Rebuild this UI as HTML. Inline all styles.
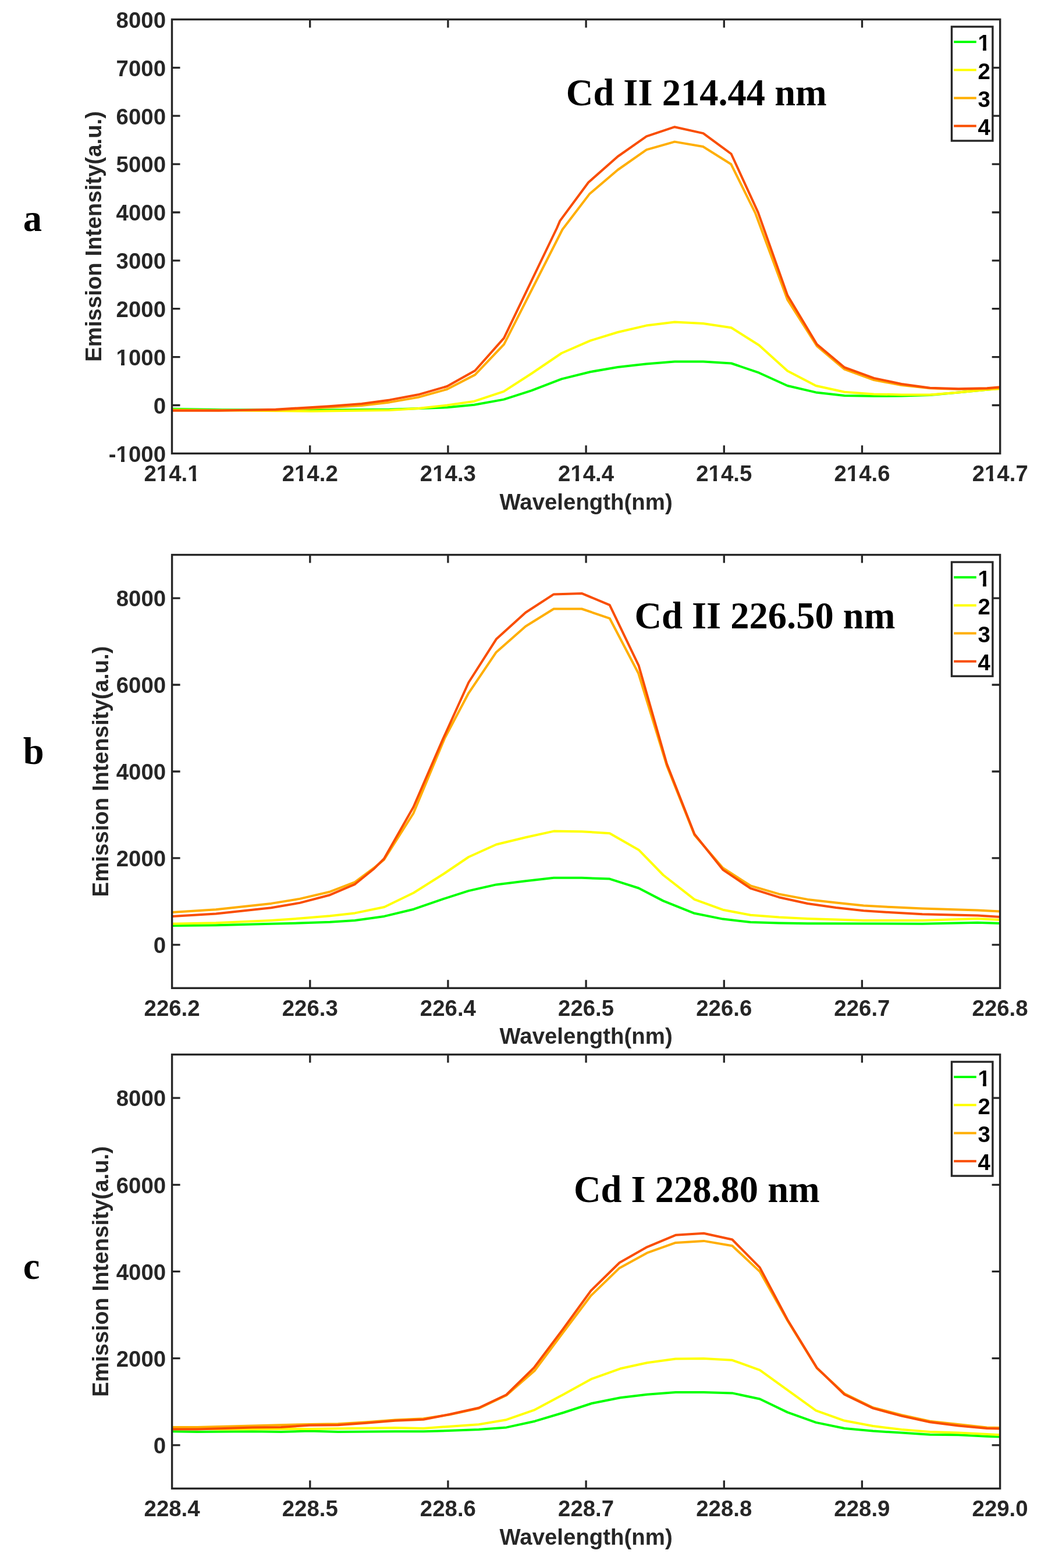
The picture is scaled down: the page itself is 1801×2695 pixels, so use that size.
<!DOCTYPE html>
<html><head><meta charset="utf-8"><title>Cd emission spectra</title>
<style>html,body{margin:0;padding:0;background:#fff;}svg{display:block;}</style></head><body>
<svg width="1801" height="2695" viewBox="0 0 1801 2695">
<rect x="0" y="0" width="1801" height="2695" fill="#fff"/>
<g id="panel-a">
<clipPath id="clip-a"><rect x="295.5" y="33.4" width="1423.2" height="746"/></clipPath>
<g clip-path="url(#clip-a)" fill="none" stroke-width="4" stroke-linejoin="round" stroke-linecap="butt">
<polyline stroke="#00ff00" points="296,702.8 381.8,704.3 534.9,704.9 669.6,703.7 768.3,700.3 815.1,695.8 865.6,686.6 913.1,671.3 965.1,651.4 1014.1,639.2 1061.6,631 1110.5,625.4 1159.5,621.4 1208.5,621.4 1256.8,624.5 1304.3,640.7 1353.3,663 1402.2,674.4 1451.2,679.9 1501.7,680.8 1549.2,680.5 1598.2,679 1647.1,674.4 1696.1,669.8 1720,667.3"/>
<polyline stroke="#ffff00" points="296,704.3 381.8,705.2 534.9,706.7 669.6,704.9 718.6,702 768.3,696.5 815.1,689.7 865.6,672.9 913.1,642.2 965.1,607 1014.1,585.6 1061.6,571 1110.5,559.6 1159.5,553.5 1208.5,555.9 1256.8,563.3 1304.3,593.3 1353.3,637.6 1402.2,663 1451.2,673.8 1501.7,677.4 1549.2,678.4 1598.2,678.4 1647.1,674.4 1696.1,669.8 1720,668.3"/>
<polyline stroke="#ffae00" points="296,704.9 473.7,705.2 565.5,700.3 621.5,697 669.6,691.4 718.6,682.9 768.3,669 816.4,644.1 866.1,591.9 966.5,394.5 1012.9,333.6 1061.6,292 1111,257.4 1159.4,243.6 1208.2,252 1256.4,282.3 1298.2,366.7 1353.3,515.2 1403.8,594.8 1451.2,634.6 1501.7,653 1549.2,662.1 1598.2,667.3 1647.1,668.9 1696.1,668.3 1720,666.7"/>
<polyline stroke="#f94d00" points="296,705.8 375.7,705.8 473.7,703.7 565.5,698.2 621.5,694.1 669.6,687.4 718.6,678.3 768.3,664 816.4,637 866,581.1 957,392 962.3,379.6 1011.2,313.5 1061.6,269 1111,234.4 1159.4,218.2 1208.5,229.1 1256.6,264.5 1302.8,365.2 1353.3,507.6 1403.8,591.7 1451.2,631.5 1501.7,649.9 1549.2,660 1598.2,666.7 1647.1,668.3 1696.1,667.3 1720,665.2"/>
</g>
<path d="M532.7 779.4V765.4M532.7 33.4V47.4M769.9 779.4V765.4M769.9 33.4V47.4M1007.1 779.4V765.4M1007.1 33.4V47.4M1244.3 779.4V765.4M1244.3 33.4V47.4M1481.5 779.4V765.4M1481.5 33.4V47.4M295.5 696.5H309.5M1718.7 696.5H1704.7M295.5 613.6H309.5M1718.7 613.6H1704.7M295.5 530.7H309.5M1718.7 530.7H1704.7M295.5 447.8H309.5M1718.7 447.8H1704.7M295.5 365H309.5M1718.7 365H1704.7M295.5 282.1H309.5M1718.7 282.1H1704.7M295.5 199.2H309.5M1718.7 199.2H1704.7M295.5 116.3H309.5M1718.7 116.3H1704.7" stroke="#262626" stroke-width="3.3" fill="none"/>
<rect x="295.5" y="33.4" width="1423.2" height="746" stroke="#262626" stroke-width="3.4" fill="none"/>
<g font-family="'Liberation Sans', Arial, Helvetica, sans-serif" font-weight="bold" font-size="38.4" fill="#262626">
<text x="295.5" y="826.9" text-anchor="middle">214.1</text>
<text x="532.7" y="826.9" text-anchor="middle">214.2</text>
<text x="769.9" y="826.9" text-anchor="middle">214.3</text>
<text x="1007.1" y="826.9" text-anchor="middle">214.4</text>
<text x="1244.3" y="826.9" text-anchor="middle">214.5</text>
<text x="1481.5" y="826.9" text-anchor="middle">214.6</text>
<text x="1718.7" y="826.9" text-anchor="middle">214.7</text>
<text x="285" y="793.7" text-anchor="end">-1000</text>
<text x="285" y="710.8" text-anchor="end">0</text>
<text x="285" y="627.9" text-anchor="end">1000</text>
<text x="285" y="545" text-anchor="end">2000</text>
<text x="285" y="462.1" text-anchor="end">3000</text>
<text x="285" y="379.3" text-anchor="end">4000</text>
<text x="285" y="296.4" text-anchor="end">5000</text>
<text x="285" y="213.5" text-anchor="end">6000</text>
<text x="285" y="130.6" text-anchor="end">7000</text>
<text x="285" y="47.7" text-anchor="end">8000</text>
<text x="1007.1" y="875.5" text-anchor="middle">Wavelength(nm)</text>
<text transform="translate(174.1 406.4) rotate(-90)" x="0" y="0" text-anchor="middle">Emission Intensity(a.u.)</text>
</g>
<rect x="1635.5" y="45.9" width="70.4" height="196.1" fill="#fff" stroke="#262626" stroke-width="3.4"/>
<line x1="1639.2" y1="72" x2="1677.8" y2="72" stroke="#00ff00" stroke-width="4"/>
<text x="1680.5" y="87.4" font-family="'Liberation Sans', Arial, Helvetica, sans-serif" font-weight="bold" font-size="38.4" fill="#000">1</text>
<line x1="1639.2" y1="120.2" x2="1677.8" y2="120.2" stroke="#ffff00" stroke-width="4"/>
<text x="1680.5" y="135.6" font-family="'Liberation Sans', Arial, Helvetica, sans-serif" font-weight="bold" font-size="38.4" fill="#000">2</text>
<line x1="1639.2" y1="168.4" x2="1677.8" y2="168.4" stroke="#ffae00" stroke-width="4"/>
<text x="1680.5" y="183.8" font-family="'Liberation Sans', Arial, Helvetica, sans-serif" font-weight="bold" font-size="38.4" fill="#000">3</text>
<line x1="1639.2" y1="216.6" x2="1677.8" y2="216.6" stroke="#f94d00" stroke-width="4"/>
<text x="1680.5" y="232" font-family="'Liberation Sans', Arial, Helvetica, sans-serif" font-weight="bold" font-size="38.4" fill="#000">4</text>
<text x="972.8" y="180.6" font-family="'Liberation Serif', 'Times New Roman', serif" font-weight="bold" font-size="64.5" fill="#000">Cd II 214.44 nm</text>
<text x="39.8" y="396.8" font-family="'Liberation Serif', 'Times New Roman', serif" font-weight="bold" font-size="64.5" fill="#000">a</text>
</g>
<g id="panel-b">
<clipPath id="clip-b"><rect x="295.6" y="953.6" width="1423" height="744.7"/></clipPath>
<g clip-path="url(#clip-b)" fill="none" stroke-width="4" stroke-linejoin="round" stroke-linecap="butt">
<polyline stroke="#00ff00" points="296,1591.1 371.1,1590.2 466,1587.8 515,1586.5 567,1584.7 609.9,1581.9 660.4,1574.9 710.9,1562.7 762.4,1544.9 805.3,1531.1 852.8,1520.4 903.3,1514.3 951.6,1508.8 999.7,1508.8 1047.7,1510.6 1097.6,1526.5 1139.8,1548.4 1193.4,1569.8 1242.3,1579.6 1289.8,1585.1 1338.8,1586.6 1387.8,1587.2 1585,1587.8 1680,1585.8 1720,1587"/>
<polyline stroke="#ffff00" points="296,1587.8 371.1,1586.2 466,1581.9 515,1578.6 567,1574.3 609.9,1569.4 660.4,1559 710.9,1534.5 762.4,1502 805.3,1473 852.8,1451.5 903.3,1439.3 951.6,1428.6 999.7,1429.2 1047.7,1432.2 1097.6,1460.7 1139.8,1504 1193.4,1545.9 1242.3,1563.7 1289.8,1572.8 1338.8,1576.5 1387.8,1579 1436.7,1580.5 1484.2,1582 1585,1582 1680,1579 1720,1581"/>
<polyline stroke="#ffae00" points="296,1567.9 371.1,1563.3 466,1552.9 515,1544.9 567,1532.7 609.9,1516.1 642,1492.2 659.9,1477.6 710.4,1398 764,1269.4 805.3,1191.3 852.8,1120.9 903.3,1076.5 951.6,1046.5 999.7,1046.5 1047.7,1062.8 1097,1157 1145.9,1316 1193.4,1435.1 1242.3,1491.7 1289.8,1522.3 1338.8,1536.7 1387.8,1545.9 1436.7,1551.4 1484.2,1556.6 1531.6,1559.1 1585,1561.6 1680,1564.4 1720,1566.5"/>
<polyline stroke="#f94d00" points="296,1574.9 371.1,1570.6 466,1560.2 515,1551.9 567,1538.2 609.9,1519.8 642,1493.8 659.9,1476 710.4,1387.2 760.9,1270.9 805.3,1173 852.8,1098.6 903.3,1052.7 951.6,1021.4 999.7,1019.9 1047.7,1039.8 1097.6,1143.9 1145.9,1312.7 1193.4,1433.6 1242.3,1494.8 1289.8,1526.9 1338.8,1542.2 1387.8,1553 1436.7,1560 1484.2,1565.2 1531.6,1568.3 1585,1571.3 1680,1573.6 1720,1576"/>
</g>
<path d="M532.8 1698.3V1684.3M532.8 953.6V967.6M769.9 1698.3V1684.3M769.9 953.6V967.6M1007.1 1698.3V1684.3M1007.1 953.6V967.6M1244.3 1698.3V1684.3M1244.3 953.6V967.6M1481.4 1698.3V1684.3M1481.4 953.6V967.6M295.6 1623.8H309.6M1718.6 1623.8H1704.6M295.6 1474.9H309.6M1718.6 1474.9H1704.6M295.6 1326H309.6M1718.6 1326H1704.6M295.6 1177H309.6M1718.6 1177H1704.6M295.6 1028.1H309.6M1718.6 1028.1H1704.6" stroke="#262626" stroke-width="3.3" fill="none"/>
<rect x="295.6" y="953.6" width="1423" height="744.7" stroke="#262626" stroke-width="3.4" fill="none"/>
<g font-family="'Liberation Sans', Arial, Helvetica, sans-serif" font-weight="bold" font-size="38.4" fill="#262626">
<text x="295.6" y="1745.8" text-anchor="middle">226.2</text>
<text x="532.8" y="1745.8" text-anchor="middle">226.3</text>
<text x="769.9" y="1745.8" text-anchor="middle">226.4</text>
<text x="1007.1" y="1745.8" text-anchor="middle">226.5</text>
<text x="1244.3" y="1745.8" text-anchor="middle">226.6</text>
<text x="1481.4" y="1745.8" text-anchor="middle">226.7</text>
<text x="1718.6" y="1745.8" text-anchor="middle">226.8</text>
<text x="285.1" y="1638.1" text-anchor="end">0</text>
<text x="285.1" y="1489.2" text-anchor="end">2000</text>
<text x="285.1" y="1340.2" text-anchor="end">4000</text>
<text x="285.1" y="1191.3" text-anchor="end">6000</text>
<text x="285.1" y="1042.4" text-anchor="end">8000</text>
<text x="1007.1" y="1794.4" text-anchor="middle">Wavelength(nm)</text>
<text transform="translate(186.1 1326) rotate(-90)" x="0" y="0" text-anchor="middle">Emission Intensity(a.u.)</text>
</g>
<rect x="1635.5" y="966.1" width="70.4" height="196.1" fill="#fff" stroke="#262626" stroke-width="3.4"/>
<line x1="1639.2" y1="992.2" x2="1677.8" y2="992.2" stroke="#00ff00" stroke-width="4"/>
<text x="1680.5" y="1007.6" font-family="'Liberation Sans', Arial, Helvetica, sans-serif" font-weight="bold" font-size="38.4" fill="#000">1</text>
<line x1="1639.2" y1="1040.4" x2="1677.8" y2="1040.4" stroke="#ffff00" stroke-width="4"/>
<text x="1680.5" y="1055.8" font-family="'Liberation Sans', Arial, Helvetica, sans-serif" font-weight="bold" font-size="38.4" fill="#000">2</text>
<line x1="1639.2" y1="1088.6" x2="1677.8" y2="1088.6" stroke="#ffae00" stroke-width="4"/>
<text x="1680.5" y="1104" font-family="'Liberation Sans', Arial, Helvetica, sans-serif" font-weight="bold" font-size="38.4" fill="#000">3</text>
<line x1="1639.2" y1="1136.8" x2="1677.8" y2="1136.8" stroke="#f94d00" stroke-width="4"/>
<text x="1680.5" y="1152.2" font-family="'Liberation Sans', Arial, Helvetica, sans-serif" font-weight="bold" font-size="38.4" fill="#000">4</text>
<text x="1090.4" y="1080.3" font-family="'Liberation Serif', 'Times New Roman', serif" font-weight="bold" font-size="64.5" fill="#000">Cd II 226.50 nm</text>
<text x="39.8" y="1313" font-family="'Liberation Serif', 'Times New Roman', serif" font-weight="bold" font-size="64.5" fill="#000">b</text>
</g>
<g id="panel-c">
<clipPath id="clip-c"><rect x="295.6" y="1812.5" width="1423" height="745.9"/></clipPath>
<g clip-path="url(#clip-c)" fill="none" stroke-width="4" stroke-linejoin="round" stroke-linecap="butt">
<polyline stroke="#00ff00" points="296,2460.2 339,2461.1 433.9,2460.2 482.9,2461.1 531.8,2459.6 580.8,2461.1 678.8,2460.2 727.7,2460.2 770,2459 822.8,2457 870.2,2453.4 919.2,2442.7 968.2,2428 1017.1,2412 1066.1,2402.2 1112,2396.7 1161,2393.1 1209.4,2393.1 1258.4,2394.4 1305.8,2404.5 1353.3,2427.4 1402.2,2444.9 1451.2,2455 1500.2,2459.6 1549.2,2462.6 1598.2,2465.7 1647.1,2466.3 1696.1,2468.8 1720,2469.4"/>
<polyline stroke="#ffff00" points="296,2455 381.8,2456.5 534.9,2455.9 678.8,2454.1 727.7,2455 770,2451.9 822.8,2448.2 870.2,2440.2 917.7,2423.7 968.2,2396.7 1017.1,2369.8 1066.1,2352.3 1112,2342.2 1161,2335.5 1209.4,2334.9 1258.4,2337.8 1305.8,2354.9 1353.3,2389.2 1402.2,2424.4 1451.2,2441.8 1500.2,2451 1549.2,2457.1 1598.2,2461.1 1647.1,2462.6 1696.1,2465.1 1720,2466.3"/>
<polyline stroke="#ffae00" points="296,2452.9 339,2452.9 433.9,2450.4 531.8,2448 580.8,2447.3 629.8,2444.3 678.8,2440.6 727.7,2438.2 772.2,2431.5 822.8,2420.6 870.2,2398.3 919.2,2355.4 968.2,2289.6 1015.6,2226.8 1064.6,2179.4 1112,2153.4 1161,2135.9 1209.4,2132.9 1258.4,2141.2 1305.8,2185.6 1353.3,2269.8 1403.8,2351.5 1451.2,2395.3 1500.2,2419.2 1549.2,2432 1598.2,2442.7 1696.1,2453.5 1720,2454.1"/>
<polyline stroke="#f94d00" points="296,2456.5 339,2456.5 433.9,2453.5 482.9,2452.9 531.8,2449.8 580.8,2449.2 629.8,2445.8 678.8,2441.8 727.7,2439.7 772.2,2431 822.8,2419.7 870.2,2397.3 917.7,2350.8 968.2,2283.5 1015.6,2218.3 1064.6,2170.2 1112,2143.3 1161,2122.8 1209.4,2119.7 1258.4,2130.5 1305.8,2178.6 1353.3,2268.3 1403.8,2350.9 1451.2,2396.8 1500.2,2420.4 1549.2,2433.6 1598.2,2444.3 1647.1,2450.4 1696.1,2455 1720,2455.6"/>
</g>
<path d="M532.8 2558.4V2544.4M532.8 1812.5V1826.5M769.9 2558.4V2544.4M769.9 1812.5V1826.5M1007.1 2558.4V2544.4M1007.1 1812.5V1826.5M1244.3 2558.4V2544.4M1244.3 1812.5V1826.5M1481.4 2558.4V2544.4M1481.4 1812.5V1826.5M295.6 2483.8H309.6M1718.6 2483.8H1704.6M295.6 2334.6H309.6M1718.6 2334.6H1704.6M295.6 2185.4H309.6M1718.6 2185.4H1704.6M295.6 2036.3H309.6M1718.6 2036.3H1704.6M295.6 1887.1H309.6M1718.6 1887.1H1704.6" stroke="#262626" stroke-width="3.3" fill="none"/>
<rect x="295.6" y="1812.5" width="1423" height="745.9" stroke="#262626" stroke-width="3.4" fill="none"/>
<g font-family="'Liberation Sans', Arial, Helvetica, sans-serif" font-weight="bold" font-size="38.4" fill="#262626">
<text x="295.6" y="2605.9" text-anchor="middle">228.4</text>
<text x="532.8" y="2605.9" text-anchor="middle">228.5</text>
<text x="769.9" y="2605.9" text-anchor="middle">228.6</text>
<text x="1007.1" y="2605.9" text-anchor="middle">228.7</text>
<text x="1244.3" y="2605.9" text-anchor="middle">228.8</text>
<text x="1481.4" y="2605.9" text-anchor="middle">228.9</text>
<text x="1718.6" y="2605.9" text-anchor="middle">229.0</text>
<text x="285.1" y="2498.1" text-anchor="end">0</text>
<text x="285.1" y="2348.9" text-anchor="end">2000</text>
<text x="285.1" y="2199.8" text-anchor="end">4000</text>
<text x="285.1" y="2050.6" text-anchor="end">6000</text>
<text x="285.1" y="1901.4" text-anchor="end">8000</text>
<text x="1007.1" y="2654.5" text-anchor="middle">Wavelength(nm)</text>
<text transform="translate(186.1 2185.4) rotate(-90)" x="0" y="0" text-anchor="middle">Emission Intensity(a.u.)</text>
</g>
<rect x="1635.5" y="1825" width="70.4" height="196.1" fill="#fff" stroke="#262626" stroke-width="3.4"/>
<line x1="1639.2" y1="1851.1" x2="1677.8" y2="1851.1" stroke="#00ff00" stroke-width="4"/>
<text x="1680.5" y="1866.5" font-family="'Liberation Sans', Arial, Helvetica, sans-serif" font-weight="bold" font-size="38.4" fill="#000">1</text>
<line x1="1639.2" y1="1899.3" x2="1677.8" y2="1899.3" stroke="#ffff00" stroke-width="4"/>
<text x="1680.5" y="1914.7" font-family="'Liberation Sans', Arial, Helvetica, sans-serif" font-weight="bold" font-size="38.4" fill="#000">2</text>
<line x1="1639.2" y1="1947.5" x2="1677.8" y2="1947.5" stroke="#ffae00" stroke-width="4"/>
<text x="1680.5" y="1962.9" font-family="'Liberation Sans', Arial, Helvetica, sans-serif" font-weight="bold" font-size="38.4" fill="#000">3</text>
<line x1="1639.2" y1="1995.7" x2="1677.8" y2="1995.7" stroke="#f94d00" stroke-width="4"/>
<text x="1680.5" y="2011.1" font-family="'Liberation Sans', Arial, Helvetica, sans-serif" font-weight="bold" font-size="38.4" fill="#000">4</text>
<text x="985.9" y="2065.8" font-family="'Liberation Serif', 'Times New Roman', serif" font-weight="bold" font-size="64.5" fill="#000">Cd I 228.80 nm</text>
<text x="39.8" y="2198" font-family="'Liberation Serif', 'Times New Roman', serif" font-weight="bold" font-size="64.5" fill="#000">c</text>
</g>
<g fill="#fff"><rect x="270.35" y="822.29" width="6.65" height="5.38"/><rect x="283.00" y="822.29" width="6.93" height="5.38"/><rect x="323.72" y="822.29" width="7.28" height="5.38"/><rect x="337.00" y="822.29" width="6.31" height="5.38"/><rect x="507.55" y="822.29" width="6.45" height="5.38"/><rect x="521.00" y="822.29" width="6.13" height="5.38"/><rect x="744.75" y="822.29" width="7.25" height="5.38"/><rect x="758.00" y="822.29" width="6.33" height="5.38"/><rect x="981.95" y="822.29" width="7.05" height="5.38"/><rect x="995.00" y="822.29" width="6.53" height="5.38"/><rect x="1219.15" y="822.29" width="6.85" height="5.38"/><rect x="1232.00" y="822.29" width="6.73" height="5.38"/><rect x="1456.35" y="822.29" width="6.65" height="5.38"/><rect x="1469.00" y="822.29" width="6.93" height="5.38"/><rect x="1693.55" y="822.29" width="6.45" height="5.38"/><rect x="1707.00" y="822.29" width="6.13" height="5.38"/><rect x="201.13" y="789.09" width="6.87" height="5.38"/><rect x="214.00" y="789.09" width="6.72" height="5.38"/><rect x="201.13" y="623.31" width="6.87" height="5.38"/><rect x="214.00" y="623.31" width="6.72" height="5.38"/><rect x="1682.04" y="82.79" width="6.96" height="5.38"/><rect x="1695.00" y="82.79" width="6.62" height="5.38"/><rect x="1682.04" y="1002.99" width="6.96" height="5.38"/><rect x="1695.00" y="1002.99" width="6.62" height="5.38"/><rect x="1682.04" y="1861.89" width="6.96" height="5.38"/><rect x="1695.00" y="1861.89" width="6.62" height="5.38"/></g>
</svg>
</body></html>
